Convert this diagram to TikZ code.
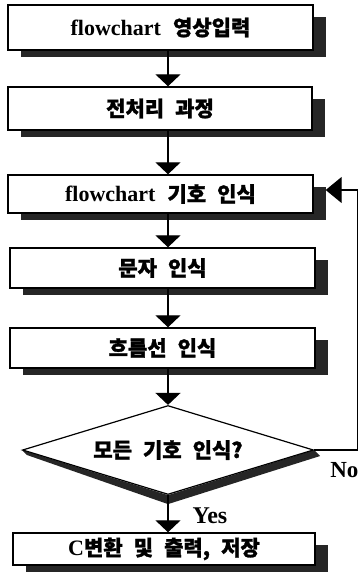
\documentclass[tikz,border=0pt]{standalone}
\usepackage{fontspec}
\setmainfont{Liberation Serif}
\newfontfamily\kr[WordSpace=2.3,BoldFeatures={FakeBold=1.3}]{Noto Sans CJK KR}
\usetikzlibrary{shapes.geometric,arrows.meta,backgrounds}
\tikzset{
  x=1pt,y=1pt,
  box/.style={draw,line width=1.4pt,fill=white,rectangle,inner sep=0pt,font=\bfseries},
  dec/.style={draw,line width=1.2pt,fill=white,diamond,inner sep=0pt,aspect=3.27,font=\bfseries},
  shd/.style={fill=black!85},
  arr/.style={line width=1.3pt,-{Triangle[width=25pt,length=12pt]}},
  arrb/.style={line width=1.3pt,-{Triangle[width=26pt,length=16pt]}},
  lbl/.style={font=\fontsize{23}{23}\selectfont\bfseries,inner sep=0pt}
}
\newcommand{\K}[1]{{\kr\fontsize{21}{21}\selectfont #1}}
\newcommand{\Lt}[1]{{\fontsize{22}{22}\selectfont #1}}
\begin{document}
\begin{tikzpicture}
\useasboundingbox (0,0) rectangle (358,-582);
\node[box,minimum width=305pt,minimum height=45pt] (b1) at (160.5,-27.5) {\Lt{flowchart}\hspace{12pt}\K{영상입력}};
\node[box,minimum width=304pt,minimum height=43pt] (b2) at (160,-108.5) {\K{전처리 과정}};
\node[box,minimum width=305pt,minimum height=38pt] (b3) at (160.5,-194) {\Lt{flowchart}\hspace{12pt}\K{기호 인식}};
\node[box,minimum width=305pt,minimum height=40pt] (b4) at (162.5,-268) {\K{문자 인식}};
\node[box,minimum width=305pt,minimum height=40pt] (b5) at (162.5,-348) {\K{흐름선 인식}};
\node[dec,minimum width=291pt,minimum height=89pt] (d) at (168,-450) {\K{모든 기호 인식?}};
\node[box,minimum width=302pt,minimum height=32pt] (b6) at (164,-549) {\Lt{C}\K{변환 및 출력, 저장}};
\begin{scope}[on background layer]
  \foreach \n in {b1,b2,b3,b4,b5,b6}{
    \fill[shd] ([xshift=14pt,yshift=-13pt]\n.north west) rectangle ([xshift=12pt,yshift=-6pt]\n.south east);
  }
  \fill[shd] (d.west) -- (d.south) -- (d.east) -- ([shift={(6pt,-6pt)}]d.east)
    -- ([yshift=-9pt]d.south) -- ([shift={(5pt,-5pt)}]d.west) -- cycle;
\end{scope}
\draw[arr] (b1.south -| d.north) -- (b2.north -| d.north);
\draw[arr] (b2.south -| d.north) -- (b3.north -| d.north);
\draw[arr] (b3.south -| d.north) -- (b4.north -| d.north);
\draw[arr] (b4.south -| d.north) -- (b5.north -| d.north);
\draw[arr] (b5.south -| d.north) -- (d.north);
\draw[arr] (d.south) -- (b6.north -| d.south) node[lbl,pos=0.55,anchor=west,xshift=24pt,font=\fontsize{24}{24}\selectfont\bfseries] (yes) {Yes};
\coordinate (fb) at ([xshift=12pt,yshift=4pt]b3.east);
\draw[arrb] (d.east) -- ++(43.5,0) coordinate (c1) |- (fb);
\node[lbl,anchor=north west] (no) at ([xshift=16pt,yshift=-12pt]d.east) {No};
\end{tikzpicture}
\end{document}
